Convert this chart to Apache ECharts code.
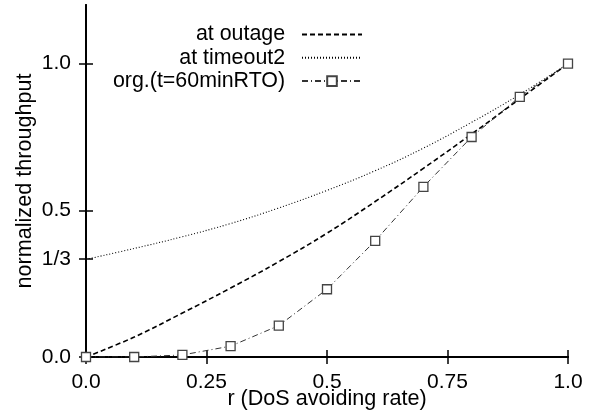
<!DOCTYPE html>
<html>
<head>
<meta charset="utf-8">
<script src="https://cdn.jsdelivr.net/npm/echarts@6/dist/echarts.min.js"></script>
<style>
  html, body { margin: 0; padding: 0; background: #fff; }
  #chart { width: 596px; height: 417px; }
</style>
</head>
<body>
<div id="chart"></div>
<script>
// r values (DoS avoiding rate)
const rValues = [0, 0.1, 0.2, 0.3, 0.4, 0.5, 0.6, 0.7, 0.8, 0.9, 1.0];
// normalized throughput
const atOutage = [0, 0.068, 0.150, 0.235, 0.325, 0.422, 0.530, 0.643, 0.760, 0.880, 1.0];
const atTimeout2 = [0.333, 0.370, 0.410, 0.455, 0.508, 0.568, 0.635, 0.712, 0.800, 0.895, 1.0];
const orgRTO = [0, 0, 0.007, 0.037, 0.107, 0.231, 0.396, 0.580, 0.750, 0.887, 1.0];

const xTicks = [0, 0.25, 0.5, 0.75, 1.0];
const xTickLabels = ['0.0', '0.25', '0.5', '0.75', '1.0'];
const yTicks = [0, 1 / 3, 0.5, 1.0];
const yTickLabels = ['0.0', '1/3', '0.5', '1.0'];

const font = 'Liberation Sans';
const pairs = (ys) => rValues.map((r, i) => [r, ys[i]]);
const findLabel = (ticks, labels, v) => {
    const i = ticks.findIndex(t => Math.abs(t - v) < 1e-6);
    return i < 0 ? '' : labels[i];
};

const axisLine = { show: true, lineStyle: { color: '#000', width: 2 } };
const tickStyle = { color: '#000', width: 1.5 };

var dom = document.getElementById('chart');
var myChart = echarts.init(dom, null, { renderer: 'canvas' });

const option = {
    animation: false,
    backgroundColor: '#fff',
    grid: { left: 86, right: 28, top: 5, bottom: 60, outerBoundsMode: 'none' },
    legend: {
        orient: 'vertical',
        align: 'right',
        right: 233,
        top: 24,
        padding: 0,
        itemWidth: 60,
        itemHeight: 12,
        itemGap: 2.3,
        formatter: (name) => name + '  ',
        textStyle: { fontFamily: font, fontSize: 21.4, color: '#000', lineHeight: 20 },
        data: [
            { name: 'at outage', itemStyle: { opacity: 0 } },
            { name: 'at timeout2', itemStyle: { opacity: 0 } },
            { name: 'org.(t=60minRTO)' }
        ]
    },
    xAxis: [{
        type: 'value',
        min: 0,
        max: 1,
        position: 'bottom',
        name: 'r (DoS avoiding rate)',
        nameLocation: 'middle',
        nameGap: 31,
        nameMoveOverlap: false,
        nameTextStyle: { fontFamily: font, fontSize: 21.6, color: '#000' },
        axisLine: axisLine,
        axisTick: { show: true, inside: true, length: 7, customValues: xTicks, lineStyle: tickStyle },
        axisLabel: {
            customValues: xTicks,
            margin: 15,
            fontFamily: font, fontSize: 21, color: '#000',
            formatter: (v) => findLabel(xTicks, xTickLabels, v)
        },
        splitLine: { show: false }
    }, {
        type: 'value',
        min: 0,
        max: 1,
        position: 'top',
        axisLine: axisLine,
        axisTick: { show: true, inside: true, length: 7, customValues: xTicks, lineStyle: tickStyle },
        axisLabel: { show: false },
        splitLine: { show: false }
    }],
    yAxis: [{
        type: 'value',
        min: 0,
        max: 1.2,
        position: 'left',
        name: 'normalized throughput',
        nameLocation: 'middle',
        nameRotate: 90,
        nameGap: 50,
        nameMoveOverlap: false,
        nameTextStyle: { fontFamily: font, fontSize: 21.6, color: '#000' },
        axisLine: axisLine,
        axisTick: { show: true, inside: true, length: 7, customValues: yTicks, lineStyle: tickStyle },
        axisLabel: {
            customValues: yTicks,
            margin: 15,
            fontFamily: font, fontSize: 21, color: '#000',
            formatter: (v) => findLabel(yTicks, yTickLabels, v)
        },
        splitLine: { show: false }
    }, {
        type: 'value',
        min: 0,
        max: 1.2,
        position: 'right',
        axisLine: axisLine,
        axisTick: { show: true, inside: true, length: 7, customValues: yTicks, lineStyle: tickStyle },
        axisLabel: { show: false },
        splitLine: { show: false }
    }],
    series: [{
        name: 'at outage',
        type: 'line',
        smooth: 0.4,
        showSymbol: false,
        symbol: 'none',
        data: pairs(atOutage),
        lineStyle: { color: '#000', width: 1.6, type: [5, 3] },
        itemStyle: { color: '#000' }
    }, {
        name: 'at timeout2',
        type: 'line',
        smooth: 0.4,
        showSymbol: false,
        symbol: 'none',
        data: pairs(atTimeout2),
        lineStyle: { color: '#000', width: 1.1, type: [1, 2] },
        itemStyle: { color: '#000' }
    }, {
        name: 'org.(t=60minRTO)',
        type: 'line',
        symbol: 'rect',
        symbolSize: 9,
        data: pairs(orgRTO),
        lineStyle: { color: '#333', width: 1, type: [6, 3, 1, 3] },
        itemStyle: { color: '#fff', borderColor: '#444', borderWidth: 1.3 }
    }]
};

myChart.setOption(option);
</script>
</body>
</html>
